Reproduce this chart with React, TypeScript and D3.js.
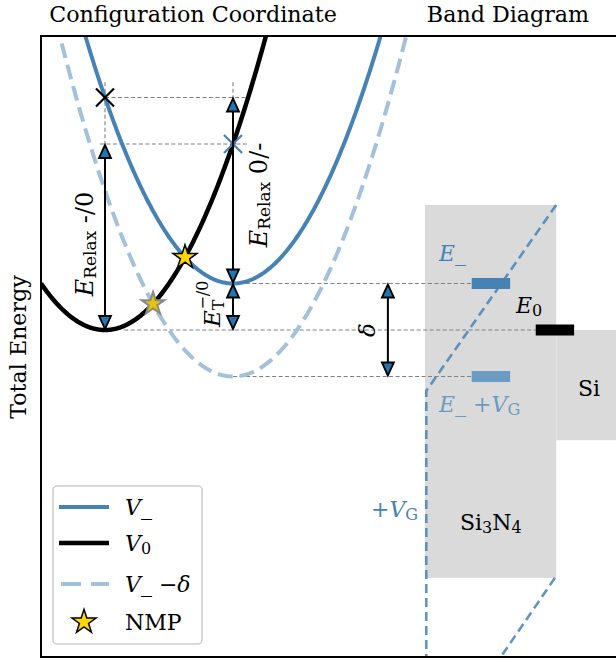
import React from "react";
import * as d3 from "d3";

const W = 616;
const H = 662;

// configuration-coordinate parabolas: E = minE + (q - minQ)^2
const curveKeys = ["Vm", "V0", "Vmd"];
const curveMinQ = [3, 1, 3];
const curveMinE = [1, 0, -1];
const curveColors = ["#4682b4", "#000000", "#a3c1da"];
const curveWidths = [4, 4.5, 4];
const curveDash = ["", "", "15 7"];

// markers (q, E)
const crossQ = [1, 3];
const crossE = [5, 4];
const crossColors = ["#000000", "#4682b4"];

// double arrows (q, E from, E to)
const arrowQ = [1, 3, 3, 5.42];
const arrowE1 = [4, 5, 1, 1];
const arrowE2 = [0, 1, 0, -1];

// guide lines (gray dashed)
const hGuideE = [5, 4, 1, 0, -1];
const hGuideQ1 = [1, 0.92, 3.1, 1.3, 2.9];
const hGuideQ2 = [3.22, 3.22, 6.73, 7.73, 6.8];
const vGuideQ = [1, 3];
const vGuideE1 = [5.33, 5.33];
const vGuideE2 = [4, 4.6];

// band diagram
const nitrideQ = [6.0, 8.05];
const nitrideE = [-5.33, 2.69];
const siQ = [8.05, 9.2];
const siE = [-2.37, 0];
const bandLineA_Q = [8.05, 6.02, 6.02];
const bandLineA_E = [2.69, -1.31, -7.2];
const bandLineB_Q = [8.03, 7.15];
const bandLineB_E = [-5.33, -7.1];
const levelQ1 = [6.73, 6.73, 7.73];
const levelQ2 = [7.33, 7.33, 8.33];
const levelE = [1, -1, 0];
const levelColors = ["#4682b4", "#6b9bc3", "#000000"];

const FONT = "DejaVu Serif, serif";

export default function App() {
  const x = d3.scaleLinear().domain([0, 9]).range([41, 617]);
  const y = d3.scaleLinear().domain([0, 1]).range([330, 283.5]);
  const left = 41, top = 36, bottom = 657, right = 617;

  const qs = d3.range(0, 9.001, 0.02);

  const curvePaths = curveKeys.map((k, i) =>
    d3
      .line<number>()
      .x((q) => x(q))
      .y((q) => y(curveMinE[i] + (q - curveMinQ[i]) ** 2))(qs) as string
  );

  // NMP crossing points: V0 with V_ and V0 with V_-delta
  const crossing = (a: number, b: number) => {
    const qa = curveMinQ[a], qb = curveMinQ[b], ea = curveMinE[a], eb = curveMinE[b];
    const q = (qb * qb + eb - qa * qa - ea) / (2 * (qb - qa));
    return [q, ea + (q - qa) ** 2];
  };
  const nmp = [crossing(1, 0), crossing(1, 2)];
  const star = d3.symbol().type(d3.symbolStar).size(180)() as string;
  const starSmall = d3.symbol().type(d3.symbolStar).size(160)() as string;

  const bandA = d3
    .line<number>()
    .x((_, i) => x(bandLineA_Q[i]))
    .y((_, i) => y(bandLineA_E[i]))(bandLineA_E) as string;
  const bandB = d3
    .line<number>()
    .x((_, i) => x(bandLineB_Q[i]))
    .y((_, i) => y(bandLineB_E[i]))(bandLineB_E) as string;

  const head = (px: number, py: number, dir: number) => {
    const L = 13, w = 6;
    return `M${px},${py} L${px - w},${py - dir * L} L${px + w},${py - dir * L} Z`;
  };

  return (
    <svg width={W} height={H} style={{ position: "absolute", left: 0, top: 0 }} fontFamily={FONT}>
      <defs>
        <clipPath id="plotclip">
          <rect x={left} y={top} width={right - left} height={bottom - top} />
        </clipPath>
      </defs>
      <rect x={0} y={0} width={W} height={H} fill="white" />

      {/* titles */}
      <text x={193} y={22} fontSize={22.2} textAnchor="middle">Configuration Coordinate</text>
      <text x={508} y={22} fontSize={22.2} textAnchor="middle">Band Diagram</text>
      <text transform="translate(26,347) rotate(-90)" fontSize={22.2} textAnchor="middle">Total Energy</text>

      <g clipPath="url(#plotclip)">
        {/* band diagram regions */}
        <rect x={x(nitrideQ[0])} y={y(nitrideE[1])} width={x(nitrideQ[1]) - x(nitrideQ[0])}
          height={y(nitrideE[0]) - y(nitrideE[1])} fill="#dadada" />
        <rect x={x(siQ[0])} y={y(siE[1])} width={x(siQ[1]) - x(siQ[0])}
          height={y(siE[0]) - y(siE[1])} fill="#dadada" />

        {/* gray guides */}
        {hGuideE.map((e, i) => (
          <line key={"h" + i} x1={x(hGuideQ1[i])} x2={x(hGuideQ2[i])} y1={y(e)} y2={y(e)}
            stroke="#808080" strokeWidth={1.1} strokeDasharray="4 2.5" />
        ))}
        {vGuideQ.map((q, i) => (
          <line key={"v" + i} x1={x(q)} x2={x(q)} y1={y(vGuideE1[i])} y2={y(vGuideE2[i])}
            stroke="#808080" strokeWidth={1.1} strokeDasharray="4 2.5" />
        ))}

        {/* band lines */}
        <path d={bandA} fill="none" stroke="#4682b4" strokeOpacity={0.85} strokeWidth={2.6} strokeDasharray="9 5" />
        <path d={bandB} fill="none" stroke="#4682b4" strokeOpacity={0.85} strokeWidth={2.6} strokeDasharray="9 5" />

        {/* levels */}
        {levelE.map((e, i) => (
          <rect key={"l" + i} x={x(levelQ1[i])} y={y(e) - 5.5} width={x(levelQ2[i]) - x(levelQ1[i])}
            height={11} fill={levelColors[i]} />
        ))}

        {/* parabolas */}
        {[2, 0, 1].map((i) => (
          <path key={curveKeys[i]} d={curvePaths[i]} fill="none" stroke={curveColors[i]}
            strokeWidth={curveWidths[i]} strokeDasharray={curveDash[i] || undefined} />
        ))}

        {/* crosses */}
        {crossQ.map((q, i) => (
          <g key={"x" + i} transform={`translate(${x(q)},${y(crossE[i])})`} stroke={crossColors[i]} strokeWidth={2.2}>
            <line x1={-9} y1={-9} x2={9} y2={9} />
            <line x1={-9} y1={9} x2={9} y2={-9} />
          </g>
        ))}

        {/* arrows */}
        {arrowQ.map((q, i) => {
          const px = x(q);
          const y1 = y(arrowE1[i]);
          const y2 = y(arrowE2[i]);
          const up = Math.min(y1, y2), dn = Math.max(y1, y2);
          return (
            <g key={"a" + i}>
              <line x1={px} x2={px} y1={up + 6} y2={dn - 6} stroke="black" strokeWidth={2} />
              <path d={head(px, up + 1, -1)} fill="#1f77b4" stroke="black" strokeWidth={1.8} />
              <path d={head(px, dn - 1, 1)} fill="#1f77b4" stroke="black" strokeWidth={1.8} />
            </g>
          );
        })}

        {/* NMP stars */}
        <path d={star} transform={`translate(${x(nmp[0][0])},${y(nmp[0][1])})`} fill="#ffd700" stroke="black" strokeWidth={1.5} />
        <path d={starSmall} transform={`translate(${x(nmp[1][0])},${y(nmp[1][1])})`} fill="#e8c400" stroke="#888888" strokeWidth={2} />
      </g>

      {/* rotated labels */}
      <text transform="translate(93,244) rotate(-90)" fontSize={24} textAnchor="middle">
        <tspan fontStyle="italic">E</tspan>
        <tspan fontSize={17} dy={3}>Relax</tspan>
        <tspan dy={-3}> -/0</tspan>
      </text>
      <text transform="translate(267,195) rotate(-90)" fontSize={24} textAnchor="middle">
        <tspan fontStyle="italic">E</tspan>
        <tspan fontSize={17} dy={3}>Relax</tspan>
        <tspan dy={-3}> 0/-</tspan>
      </text>
      <text transform="translate(220,327) rotate(-90)" fontSize={23} textAnchor="start">
        <tspan fontStyle="italic">E</tspan>
        <tspan fontSize={16} dy={4}>T</tspan>
        <tspan fontSize={16} dx={-10} dy={-16}>−/0</tspan>
      </text>
      <text transform="translate(375,330) rotate(-90)" fontSize={23} textAnchor="middle" fontStyle="italic">δ</text>

      {/* band labels */}
      <text x={439} y={261} fontSize={22} fill="#4682b4" fontStyle="italic">E_</text>
      <text x={439} y={412} fontSize={22} fill="#6b9bc3">
        <tspan fontStyle="italic">E_</tspan>
        <tspan> +</tspan>
        <tspan fontStyle="italic">V</tspan>
        <tspan fontSize={16} dy={3}>G</tspan>
      </text>
      <text x={516} y={313} fontSize={22}>
        <tspan fontStyle="italic">E</tspan>
        <tspan fontSize={16} dy={3}>0</tspan>
      </text>
      <text x={578} y={396} fontSize={22}>Si</text>
      <text x={460} y={530} fontSize={22}>
        Si<tspan fontSize={16} dy={3}>3</tspan><tspan dy={-3}>N</tspan><tspan fontSize={16} dy={3}>4</tspan>
      </text>
      <text x={371} y={517} fontSize={22} fill="#4682b4">
        +<tspan fontStyle="italic">V</tspan><tspan fontSize={16} dy={3}>G</tspan>
      </text>

      {/* axes frame */}
      <line x1={left} x2={left} y1={top} y2={bottom} stroke="black" strokeWidth={2} />
      <line x1={left - 1} x2={W} y1={top} y2={top} stroke="black" strokeWidth={2} />
      <line x1={left - 1} x2={W} y1={bottom} y2={bottom} stroke="black" strokeWidth={2} />

      {/* legend */}
      <rect x={53} y={486} width={149} height={158} rx={4} fill="white" fillOpacity={0.85} stroke="#cccccc" strokeWidth={1.5} />
      <line x1={59} x2={109} y1={507} y2={507} stroke={curveColors[0]} strokeWidth={curveWidths[0]} />
      <line x1={59} x2={109} y1={543} y2={543} stroke={curveColors[1]} strokeWidth={curveWidths[1]} />
      <line x1={61} x2={109} y1={584} y2={584} stroke={curveColors[2]} strokeWidth={curveWidths[2]} strokeDasharray="20 10" />
      <path d={star} transform="translate(84,622)" fill="#ffd700" stroke="black" strokeWidth={1.5} />
      <text x={125} y={515} fontSize={22} fontStyle="italic">V_</text>
      <text x={125} y={551} fontSize={22}>
        <tspan fontStyle="italic">V</tspan><tspan fontSize={16} dy={3}>0</tspan>
      </text>
      <text x={125} y={592} fontSize={22}>
        <tspan fontStyle="italic">V_</tspan><tspan> −</tspan><tspan fontStyle="italic">δ</tspan>
      </text>
      <text x={125} y={630} fontSize={22}>NMP</text>
    </svg>
  );
}
